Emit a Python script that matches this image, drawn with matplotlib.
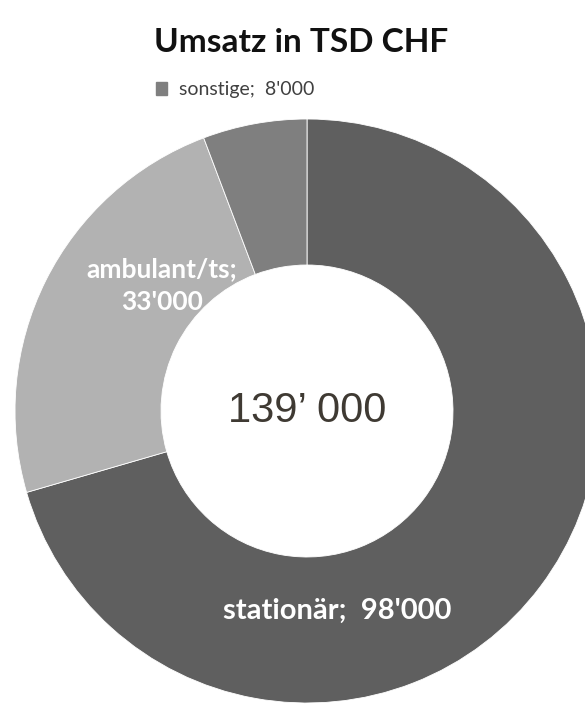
import matplotlib
matplotlib.use("Agg")
import matplotlib.pyplot as plt
from matplotlib.patches import Patch

# Umsatz in TSD CHF
categories = ["stationär", "ambulant/ts", "sonstige"]
values = [98000, 33000, 8000]
total_label = "139\u2019 000"
colors = ["#5f5f5f", "#b2b2b2", "#7f7f7f"]

W, H = 585, 704
fig = plt.figure(figsize=(W / 100, H / 100), dpi=100)
ax = fig.add_axes([0, 0, 1, 1])

cx, cy = 307, H - 411
r = 292
wedges, _ = ax.pie(values, colors=colors, startangle=90, counterclock=False,
                   center=(cx, cy), radius=r, frame=True,
                   wedgeprops=dict(width=r - 146, edgecolor="white", linewidth=0.6))
ax.set_xlim(0, W)
ax.set_ylim(0, H)
ax.set_aspect("equal")
ax.axis("off")

def fmt(v):
    return f"{v:,}".replace(",", "'")

font = "Lato"
ax.text(301, H - 43, "Umsatz in TSD CHF", ha="center", va="center",
        fontsize=24, fontweight="bold", family=font, color="#111111")

ax.text(337, H - 611, f"{categories[0]};  {fmt(values[0])}", ha="center", va="center",
        fontsize=21, fontweight="bold", family=font, color="white")
ax.text(162, H - 286, f"{categories[1]};\n{fmt(values[1])}", ha="center", va="center",
        fontsize=19, fontweight="bold", family=font, color="white", linespacing=1.45)

ax.text(cx, cy, total_label, ha="center", va="center",
        fontsize=30, family="Liberation Sans", color="#3f3a33")

leg = ax.legend([Patch(color=colors[2])], [f"{categories[2]};  {fmt(values[2])}"],
                loc="center left", bbox_to_anchor=(138 / W, 1 - 90 / H), frameon=False,
                handlelength=0.6, handleheight=0.6, handletextpad=0.6,
                prop=dict(family=font, size=14))
for t in leg.get_texts():
    t.set_color("#404040")

fig.savefig("out.png", dpi=100)
